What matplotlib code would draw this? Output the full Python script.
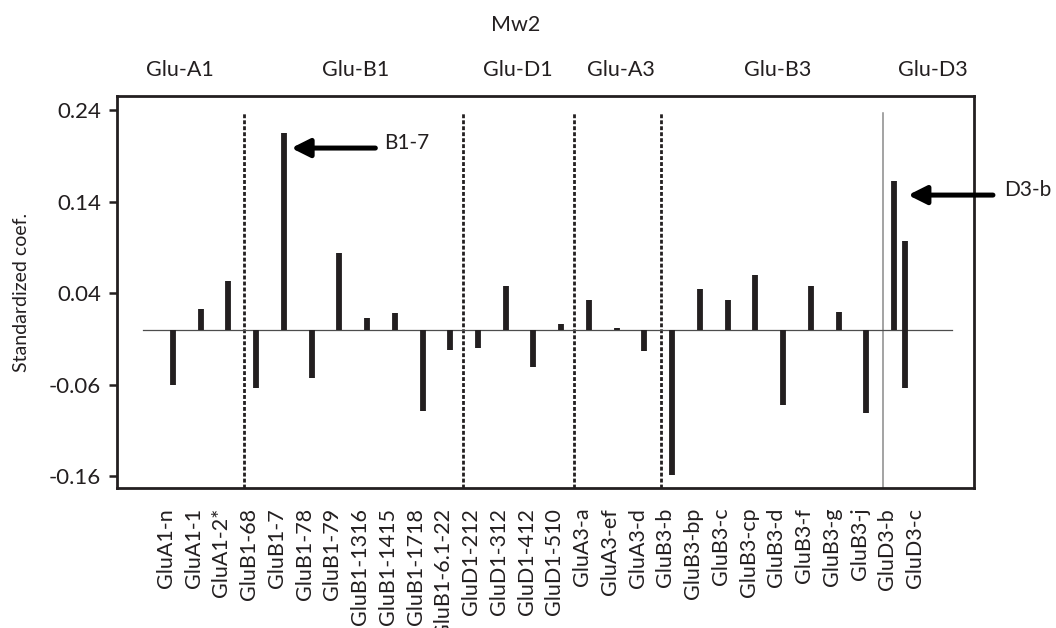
import numpy as np
import matplotlib
matplotlib.use("Agg")
import matplotlib.pyplot as plt

plt.rcParams['font.family'] = ['Lato', 'DejaVu Sans']

# ---------------- data ----------------
alleles = ["GluA1-n", "GluA1-1", "GluA1-2*", "GluB1-68", "GluB1-7", "GluB1-78",
           "GluB1-79", "GluB1-1316", "GluB1-1415", "GluB1-1718", "GluB1-6.1-22",
           "GluD1-212", "GluD1-312", "GluD1-412", "GluD1-510", "GluA3-a",
           "GluA3-ef", "GluA3-d", "GluB3-b", "GluB3-bp", "GluB3-c", "GluB3-cp",
           "GluB3-d", "GluB3-f", "GluB3-g", "GluB3-j", "GluD3-b", "GluD3-c"]
coef = [-0.0605, 0.0225, 0.053, -0.0635, 0.2145, -0.0525,
        0.084, 0.0124, 0.0185, -0.0886, -0.0223,
        -0.0198, 0.0477, -0.0405, 0.0061, 0.0323,
        0.002, -0.0234, -0.158, 0.0444, 0.0323, 0.0604,
        -0.0824, 0.0481, 0.0193, -0.0904, 0.1628, 0.0972]
# lower end of the GluD3-c bar, which spans both sides of zero
coef_low_extra = {"GluD3-c": -0.0635}
loci = ["Glu-A1", "Glu-B1", "Glu-D1", "Glu-A3", "Glu-B3", "Glu-D3"]
yticks = [0.24, 0.14, 0.04, -0.06, -0.16]
title = "Mw2"
ylabel = "Standardized coef."
annotations = [("GluB1-7", "B1-7"), ("GluD3-b", "D3-b")]

# ---------------- layout ----------------
n = len(alleles)
xpos = np.arange(n, dtype=float)
xpos[-1] = 26.4  # GluD3-c bar drawn close to GluD3-b
label_pos = np.arange(n) - 0.25
sep_dotted = [2.55, 10.45, 14.45, 17.6]
sep_solid = 25.6
locus_x = [0.27, 6.6, 12.45, 16.15, 21.8, 27.4]

ink = "#231f20"

fig = plt.figure(figsize=(10.56, 6.28), dpi=100)
ax = fig.add_axes([0.1111, 0.2224, 0.8116, 0.6248])
ax.set_xlim(-2.0, 28.89)
ax.set_ylim(-0.173, 0.2553)

# zero line
ax.plot([-1.06, 28.07], [0, 0], color="#4d4d4d", lw=0.9, zorder=2)

# bars
c = np.array(coef)
lows = np.minimum(c, 0.0)
highs = np.maximum(c, 0.0)
for name, lo in coef_low_extra.items():
    lows[alleles.index(name)] = lo
ax.vlines(xpos, lows, highs, color=ink, lw=4.2, capstyle="butt", zorder=3)

# separators
ytop_sep = 0.2553 - (112.7 - 96) / 915
for xs in sep_dotted:
    ax.plot([xs, xs], [-0.173, ytop_sep], color=ink, lw=2.0,
            linestyle=(0, (1.4, 0.75)), zorder=1, clip_on=False)
ax.plot([sep_solid, sep_solid], [-0.173, ytop_sep], color="#8a8a8a", lw=1.1, zorder=1)

# axes styling
for s in ax.spines.values():
    s.set_linewidth(2.0)
    s.set_color(ink)
ax.set_yticks(yticks)
ax.set_yticklabels([f"{v:.2f}" for v in yticks])
ax.tick_params(axis="y", direction="out", length=5.5, width=1.8, color=ink,
               labelsize=16, pad=6, labelcolor=ink)
ax.set_xticks(label_pos)
ax.set_xticklabels(alleles, rotation=90, va="top", ha="center")
ax.tick_params(axis="x", length=0, pad=14, labelsize=15.5, labelcolor=ink)
ax.set_ylabel(ylabel, fontsize=14, color=ink, labelpad=14)

# top labels
for lx, name in zip(locus_x, loci):
    ax.text(lx, 1.0 + (96 - 70) / 392.3, name, transform=ax.get_xaxis_transform(),
            ha="center", va="center", fontsize=15.5, color=ink)
fig.text(516 / 1056, 1 - 25 / 628, title, ha="center", va="center", fontsize=15.5, color=ink)

# arrows: (y level, tip offset, arrow length, text gap)
arrow_specs = {"GluB1-7": (0.2145 - (148 - 133.3) / 915, 0.27, 3.03, 0.3),
               "GluD3-b": (0.24 - (195 - 110) / 915, 0.5, 3.06, 0.4)}
for allele, text in annotations:
    i = alleles.index(allele)
    yv, off, dx, gap = arrow_specs[allele]
    x_tip = xpos[i] + off
    x_tail = x_tip + dx
    ax.annotate("", xy=(x_tip, yv), xytext=(x_tail, yv),
                arrowprops=dict(arrowstyle="-|>,head_length=1.1,head_width=0.55",
                                lw=3.6, color="black", shrinkA=0, shrinkB=0),
                annotation_clip=False)
    ax.text(x_tail + gap, yv + 0.006, text, ha="left", va="center",
            fontsize=15, color=ink, clip_on=False)

fig.savefig("out.png", dpi=100)
